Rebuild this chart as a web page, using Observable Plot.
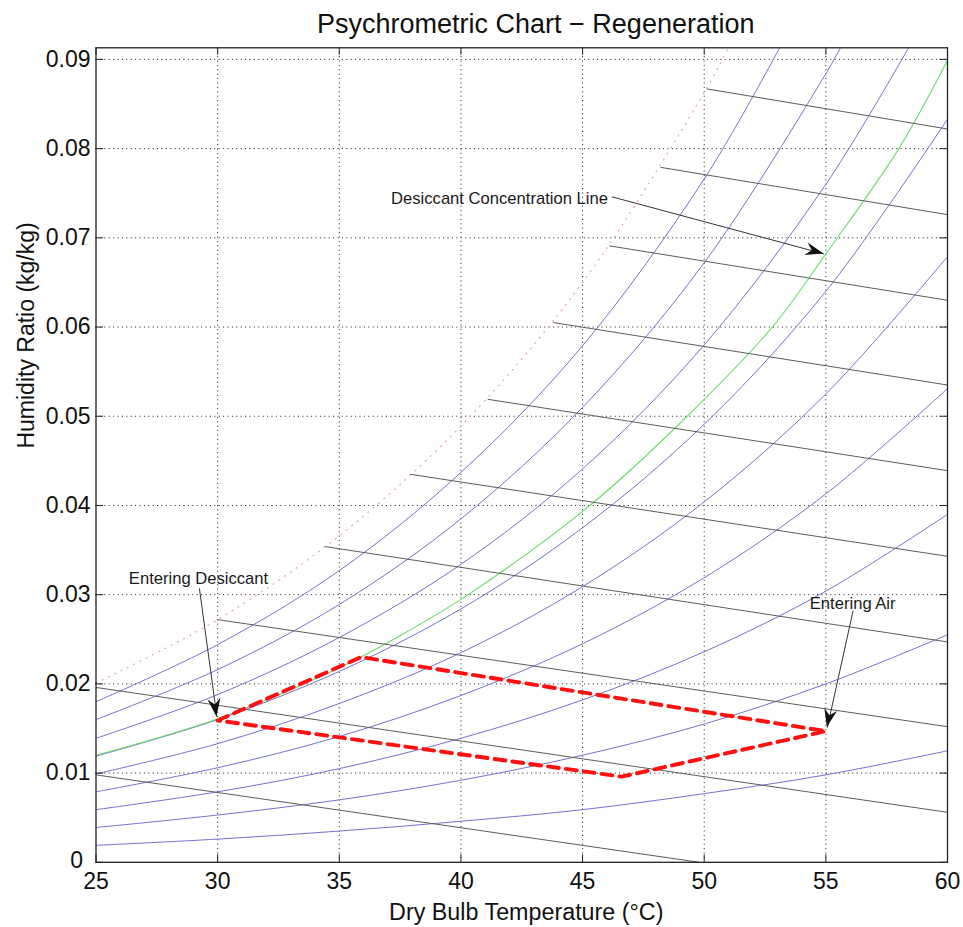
<!DOCTYPE html>
<html>
<head>
<meta charset="utf-8">
<script src="https://cdn.jsdelivr.net/npm/d3@7"></script>
<script src="https://cdn.jsdelivr.net/npm/@observablehq/plot@0.6"></script>
<style>
  html, body { margin: 0; padding: 0; background: #fff; }
  #chart svg { display: block; }
</style>
</head>
<body>
<div id="chart"></div>
<script>
// ---------------- data ----------------
const xTicks = [25, 30, 35, 40, 45, 50, 55, 60];
const yTicks = [0, 0.01, 0.02, 0.03, 0.04, 0.05, 0.06, 0.07, 0.08, 0.09];
const yTickLabels = ["0", "0.01", "0.02", "0.03", "0.04", "0.05", "0.06", "0.07", "0.08", "0.09"];

// saturation curve (dotted)
const satT = [25, 30, 35, 40, 45, 50, 51.0];
const satW = [0.0201, 0.0272, 0.0366, 0.0489, 0.0650, 0.0863, 0.0913];

// blue equilibrium lines (top-left to bottom-right)
const gridT = [25, 30, 35, 40, 45, 50, 55, 60];
const line90T = [25, 30, 35, 40, 45, 50, 53.1];
const line90W = [0.0180, 0.0244, 0.0327, 0.0437, 0.0579, 0.0766, 0.0913];
const line80T = [25, 30, 35, 40, 45, 50, 55, 55.6];
const line80W = [0.0160, 0.0216, 0.0289, 0.0385, 0.0510, 0.0672, 0.0884, 0.0913];
const line70T = [25, 30, 35, 40, 45, 50, 55, 58.4];
const line70W = [0.0139, 0.0188, 0.0252, 0.0334, 0.0441, 0.0580, 0.0760, 0.0913];
const line60W = [0.0119, 0.0160, 0.0214, 0.0284, 0.0375, 0.0491, 0.0640, 0.0833];
const line50W = [0.0099, 0.0133, 0.0178, 0.0235, 0.0309, 0.0404, 0.0525, 0.0679];
const line40W = [0.0079, 0.0106, 0.0141, 0.0187, 0.0245, 0.0319, 0.0413, 0.0531];
const line30W = [0.0059, 0.0079, 0.0105, 0.0139, 0.0182, 0.0236, 0.0304, 0.0390];
const line20W = [0.0039, 0.0053, 0.0070, 0.0092, 0.0120, 0.0155, 0.0200, 0.0255];
const line10W = [0.0019, 0.0026, 0.0035, 0.0046, 0.0059, 0.0077, 0.0098, 0.0125];

// green desiccant concentration line
const greenT = [25, 30, 35, 37.5, 40.3, 45.3, 49.3, 52.8, 55, 58, 60];
const greenW = [0.0120, 0.0161, 0.0218, 0.0254, 0.0300, 0.0400, 0.0500, 0.0600, 0.0682, 0.0800, 0.0899];

// grey enthalpy lines: start / end points
const enthStartT = [25, 25, 30.0, 34.4, 37.9, 41.1, 43.8, 46.1, 48.2, 50.1];
const enthStartW = [0.0098, 0.0196, 0.0272, 0.0354, 0.0435, 0.0519, 0.0605, 0.0691, 0.0779, 0.0867];
const enthEndT = [49.8, 60, 60, 60, 60, 60, 60, 60, 60, 60];
const enthEndW = [0.0, 0.0056, 0.0152, 0.0247, 0.0343, 0.0439, 0.0535, 0.0630, 0.0726, 0.0822];

// red dashed process
const processT = [30.0, 35.9, 55.0, 46.6, 30.0];
const processW = [0.0159, 0.0230, 0.0147, 0.0096, 0.0159];

// annotations
const noteTexts = ["Desiccant Concentration Line", "Entering Desiccant", "Entering Air"];
const noteT = [37.13, 26.35, 54.34];
const noteW = [0.0738, 0.0312, 0.0284];
const arrowFromT = [46.2, 29.25, 56.12];
const arrowFromW = [0.0746, 0.0307, 0.0282];
const arrowToT = [54.92, 29.97, 55.06];
const arrowToW = [0.0682, 0.0163, 0.0151];

// ---------------- build tables ----------------
const toRows = (id, ts, ws) => ts.map((t, i) => ({id, T: t, W: ws[i]}));
const blueRows = [
  ...toRows("90", line90T, line90W),
  ...toRows("80", line80T, line80W),
  ...toRows("70", line70T, line70W),
  ...toRows("60", gridT, line60W),
  ...toRows("50", gridT, line50W),
  ...toRows("40", gridT, line40W),
  ...toRows("30", gridT, line30W),
  ...toRows("20", gridT, line20W),
  ...toRows("10", gridT, line10W)
];
const satRows = toRows("sat", satT, satW);
const greenRows = toRows("green", greenT, greenW);
const processRows = toRows("proc", processT, processW);
const enthIdx = d3.range(enthStartT.length);
const noteIdx = d3.range(noteTexts.length);
const yIdxUpper = d3.range(1, yTicks.length);

// ---------------- layout ----------------
const W = 963, H = 927;
const mL = 95.5, mR = 16, mT = 47.3, mB = 65.2;
const innerW = W - mL - mR, innerH = H - mT - mB;
const tickLen = 7.5;
const font = "'Liberation Sans', Arial, Helvetica, sans-serif";

const arrowHeads = (index, scales) => {
  const g = d3.create("svg:g").attr("fill", "#111");
  if (!scales || !scales.x || !scales.y) return g.node();
  noteIdx.forEach(i => {
    const x1 = scales.x(arrowFromT[i]), y1 = scales.y(arrowFromW[i]);
    const x2 = scales.x(arrowToT[i]), y2 = scales.y(arrowToW[i]);
    const a = Math.atan2(y2 - y1, x2 - x1) * 180 / Math.PI;
    g.append("path")
      .attr("d", "M0,0L-18,-6.5L-12,0L-18,6.5Z")
      .attr("transform", `translate(${x2},${y2}) rotate(${a})`);
  });
  return g.node();
};

const chart = Plot.plot({
  width: W, height: H,
  marginLeft: mL, marginRight: mR, marginTop: mT, marginBottom: mB,
  x: {domain: [25, 60], axis: null},
  y: {domain: [0, 0.0913], axis: null},
  style: {fontFamily: font, background: "#fff", color: "#111", overflow: "visible"},
  marks: [
    // grid
    Plot.ruleX(xTicks.slice(1, -1), {stroke: "#000", strokeWidth: 1, strokeDasharray: "1,3.4", strokeOpacity: 0.9}),
    Plot.ruleY(yTicks.slice(1), {stroke: "#000", strokeWidth: 1, strokeDasharray: "1,3.4", strokeOpacity: 0.9}),
    // curves
    Plot.line(blueRows, {x: "T", y: "W", z: "id", stroke: "#7272d4", strokeWidth: 1, curve: "catmull-rom"}),
    Plot.line(greenRows, {x: "T", y: "W", stroke: "#6adc6a", strokeWidth: 1.1, curve: "catmull-rom"}),
    Plot.link(enthIdx, {x1: i => enthStartT[i], y1: i => enthStartW[i], x2: i => enthEndT[i], y2: i => enthEndW[i], stroke: "#5c5c5c", strokeWidth: 1}),
    Plot.line(satRows, {x: "T", y: "W", stroke: "#f2a0a0", strokeWidth: 1.2, strokeDasharray: "1,6", curve: "catmull-rom"}),
    Plot.line(processRows, {x: "T", y: "W", stroke: "#ff1010", strokeWidth: 3.9, strokeDasharray: "11,7"}),
    // frame and inward ticks
    Plot.frame({stroke: "#222", strokeWidth: 1.3}),
    Plot.ruleX(xTicks, {insetTop: innerH - tickLen, stroke: "#222"}),
    Plot.ruleX(xTicks, {insetBottom: innerH - tickLen, stroke: "#222"}),
    Plot.ruleY(yTicks, {insetRight: innerW - tickLen, stroke: "#222"}),
    Plot.ruleY(yTicks, {insetLeft: innerW - tickLen, stroke: "#222"}),
    // tick labels
    Plot.text(xTicks, {x: d => d, frameAnchor: "bottom", lineAnchor: "top", dy: 10.5, fontSize: 23, text: d => String(d)}),
    Plot.text(yIdxUpper, {y: i => yTicks[i], frameAnchor: "left", textAnchor: "end", lineAnchor: "middle", dx: -5.5, fontSize: 23, text: i => yTickLabels[i]}),
    Plot.text([0], {y: i => yTicks[i], frameAnchor: "left", textAnchor: "end", lineAnchor: "middle", dx: -13, dy: -2, fontSize: 23, text: i => yTickLabels[i]}),
    // titles
    Plot.text(["Psychrometric Chart \u2212 Regeneration"], {frameAnchor: "top", lineAnchor: "bottom", dx: 14, dy: -15.3, fontSize: 27}),
    Plot.text(["Dry Bulb Temperature (\u00B0C)"], {frameAnchor: "bottom", lineAnchor: "bottom", dx: 4.5, dy: 58, fontSize: 23.3}),
    Plot.text(["Humidity Ratio (kg/kg)"], {frameAnchor: "left", rotate: -90, lineAnchor: "middle", dx: -69.5, dy: -6.5, fontSize: 23}),
    // annotations
    Plot.link(noteIdx, {x1: i => arrowFromT[i], y1: i => arrowFromW[i], x2: i => arrowToT[i], y2: i => arrowToW[i], stroke: "#333", strokeWidth: 1}),
    arrowHeads,
    Plot.text(noteIdx, {x: i => noteT[i], y: i => noteW[i], text: i => noteTexts[i], textAnchor: "start", lineAnchor: "bottom", fontSize: 16.6, fill: "#1a1a1a"})
  ]
});
document.getElementById("chart").appendChild(chart);
</script>
</body>
</html>
